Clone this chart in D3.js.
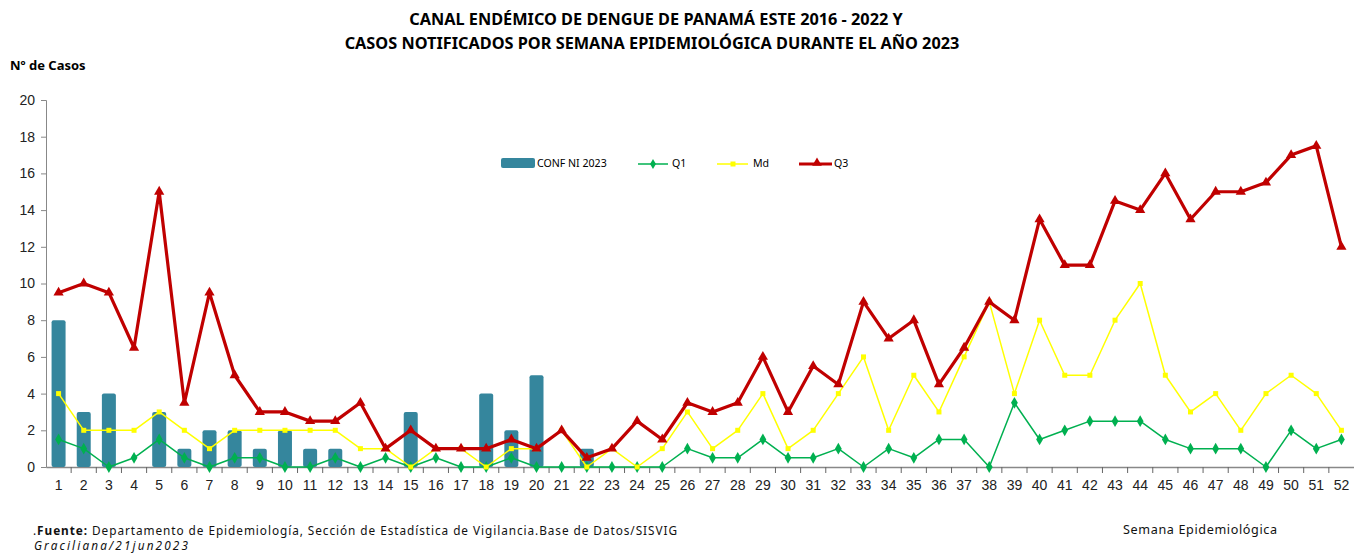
<!DOCTYPE html>
<html>
<head>
<meta charset="utf-8">
<script src="https://cdn.jsdelivr.net/npm/d3@7"></script>
<style>
body { margin: 0; background: #fff; }
svg { display: block; }
</style>
</head>
<body>
<svg width="1354" height="554"></svg>
<script>
// semanas epidemiologicas
var weeks = d3.range(1, 53);
var conf2023 = [8,3,4,0,3,1,2,2,1,2,1,1,0,0,3,0,0,4,2,5,0,1,0,0,0,0,0,0,0,0,0,0,0,0,0,0,0,0,0,0,0,0,0,0,0,0,0,0,0,0,0,0];
var q1 = [1.5,1,0,0.5,1.5,0.5,0,0.5,0.5,0,0,0.5,0,0.5,0,0.5,0,0,0.5,0,0,0,0,0,0,1,0.5,0.5,1.5,0.5,0.5,1,0,1,0.5,1.5,1.5,0,3.5,1.5,2,2.5,2.5,2.5,1.5,1,1,1,0,2,1,1.5];
var md = [4,2,2,2,3,2,1,2,2,2,2,2,1,1,0,1,1,0,1,1,2,0,1,0,1,3,1,2,4,1,2,4,6,2,5,3,6,9,4,8,5,5,8,10,5,3,4,2,4,5,4,2];
var q3 = [9.5,10,9.5,6.5,15,3.5,9.5,5,3,3,2.5,2.5,3.5,1,2,1,1,1,1.5,1,2,0.5,1,2.5,1.5,3.5,3,3.5,6,3,5.5,4.5,9,7,8,4.5,6.5,9,8,13.5,11,11,14.5,14,16,13.5,15,15,15.5,17,17.5,12];
var yTicks = [0,2,4,6,8,10,12,14,16,18,20];

var svg = d3.select("svg");

var x = d3.scaleBand().domain(weeks).range([46, 1354]).padding(0);
var y = d3.scaleLinear().domain([0, 20]).range([467, 100]);
var cx = function(d, i){ return x(weeks[i]) + x.bandwidth()/2; };

// titulo
svg.append("text")
    .attr("x", 656).attr("y", 25)
    .attr("text-anchor", "middle")
    .style("font-family", "Noto Sans").style("font-weight", "bold").style("font-size", "16.3px")
    .text("CANAL ENDÉMICO DE DENGUE DE PANAMÁ ESTE 2016 - 2022 Y");
svg.append("text")
    .attr("x", 652).attr("y", 49)
    .attr("text-anchor", "middle")
    .style("font-family", "Noto Sans").style("font-weight", "bold").style("font-size", "16.3px")
    .text("CASOS NOTIFICADOS POR SEMANA EPIDEMIOLÓGICA DURANTE EL AÑO 2023");

svg.append("text")
    .attr("x", 10).attr("y", 70)
    .style("font-family", "Noto Sans").style("font-weight", "bold").style("font-size", "13px")
    .text("Nº de Casos");

// ejes
var yAxis = d3.axisLeft(y).tickValues(yTicks).tickSize(5).tickPadding(6);
var gy = svg.append("g").attr("transform", "translate(46,0)").call(yAxis);
gy.select(".domain").attr("stroke", "#888");
gy.selectAll(".tick line").attr("stroke", "#888");
gy.selectAll("text").style("font-family", "Liberation Sans").style("font-size", "14px").attr("fill", "#222");

var xAxis = d3.axisBottom(x).tickSize(0).tickPadding(13);
var gx = svg.append("g").attr("transform", "translate(0,467)").call(xAxis);
gx.select(".domain").attr("stroke", "#888").attr("stroke-width", 1.5);
gx.selectAll("text").style("font-family", "Liberation Sans").style("font-size", "14px").attr("fill", "#222");
// marcas entre semanas
gx.selectAll(".sep")
    .data(weeks.slice(1))
    .enter().append("line")
    .attr("x1", function(d){ return x(d); }).attr("x2", function(d){ return x(d); })
    .attr("y1", 0).attr("y2", 6)
    .attr("stroke", "#666");

// barras
svg.selectAll(".bar")
    .data(conf2023)
    .enter().append("rect")
    .attr("x", function(d, i){ return cx(d, i) - 7; })
    .attr("y", function(d){ return y(d); })
    .attr("width", 14)
    .attr("height", function(d){ return y(0) - y(d); })
    .attr("rx", 2)
    .attr("fill", "#35869d");

function serie(data, color, width) {
    var line = d3.line().x(cx).y(function(d){ return y(d); });
    svg.append("path")
        .datum(data)
        .attr("d", line)
        .attr("fill", "none")
        .attr("stroke", color)
        .attr("stroke-width", width)
        .attr("stroke-linejoin", "round");
}

serie(q1, "#00b050", 1.5);
svg.selectAll(".q1")
    .data(q1).enter().append("path")
    .attr("d", d3.symbol(d3.symbolDiamond, 40))
    .attr("transform", function(d, i){ return "translate(" + cx(d, i) + "," + y(d) + ")"; })
    .attr("fill", "#00b050");

serie(md, "#ffff00", 1.5);
svg.selectAll(".md")
    .data(md).enter().append("rect")
    .attr("x", function(d, i){ return cx(d, i) - 2.5; })
    .attr("y", function(d){ return y(d) - 2.5; })
    .attr("width", 5).attr("height", 5)
    .attr("fill", "#ffff00");

serie(q3, "#c00000", 3.2);
svg.selectAll(".q3")
    .data(q3).enter().append("path")
    .attr("d", d3.symbol(d3.symbolTriangle, 45))
    .attr("transform", function(d, i){ return "translate(" + cx(d, i) + "," + y(d) + ")"; })
    .attr("fill", "#c00000");

// leyenda
var lg = svg.append("g").style("font-family", "Noto Sans").style("font-size", "10.6px");
lg.append("rect").attr("x", 501).attr("y", 158).attr("width", 34).attr("height", 10).attr("rx", 2).attr("fill", "#35869d");
lg.append("text").attr("x", 537).attr("y", 167).text("CONF NI 2023");
lg.append("line").attr("x1", 638).attr("x2", 668).attr("y1", 164).attr("y2", 164).attr("stroke", "#00b050").attr("stroke-width", 1.5);
lg.append("path").attr("d", d3.symbol(d3.symbolDiamond, 30)).attr("transform", "translate(653,164)").attr("fill", "#00b050");
lg.append("text").attr("x", 672).attr("y", 167).text("Q1");
lg.append("line").attr("x1", 717).attr("x2", 748).attr("y1", 164).attr("y2", 164).attr("stroke", "#ffff00").attr("stroke-width", 1.5);
lg.append("rect").attr("x", 730.5).attr("y", 161.5).attr("width", 5).attr("height", 5).attr("fill", "#ffff00");
lg.append("text").attr("x", 753).attr("y", 167).text("Md");
lg.append("line").attr("x1", 799).attr("x2", 832).attr("y1", 164).attr("y2", 164).attr("stroke", "#c00000").attr("stroke-width", 3);
lg.append("path").attr("d", d3.symbol(d3.symbolTriangle, 40)).attr("transform", "translate(817,163)").attr("fill", "#c00000");
lg.append("text").attr("x", 834).attr("y", 167).text("Q3");

// pie
var foot = svg.append("text")
    .attr("x", 33).attr("y", 535)
    .attr("textLength", 644).attr("lengthAdjust", "spacing")
    .style("font-family", "Noto Sans").style("font-size", "11.8px").attr("fill", "#111");
foot.append("tspan").text(".");
foot.append("tspan").style("font-weight", "bold").text("Fuente:");
foot.append("tspan").text(" Departamento de Epidemiología, Sección de Estadística de Vigilancia.Base de Datos/SISVIG");
svg.append("text")
    .attr("x", 34).attr("y", 550)
    .attr("textLength", 154).attr("lengthAdjust", "spacing")
    .style("font-family", "Noto Sans").style("font-style", "italic").style("font-size", "11.8px").attr("fill", "#111")
    .text("Graciliana/21jun2023");

svg.append("text")
    .attr("x", 1123).attr("y", 534)
    .attr("textLength", 154).attr("lengthAdjust", "spacing")
    .style("font-family", "Noto Sans").style("font-size", "12.6px").attr("fill", "#111")
    .text("Semana Epidemiológica");
</script>
</body>
</html>
